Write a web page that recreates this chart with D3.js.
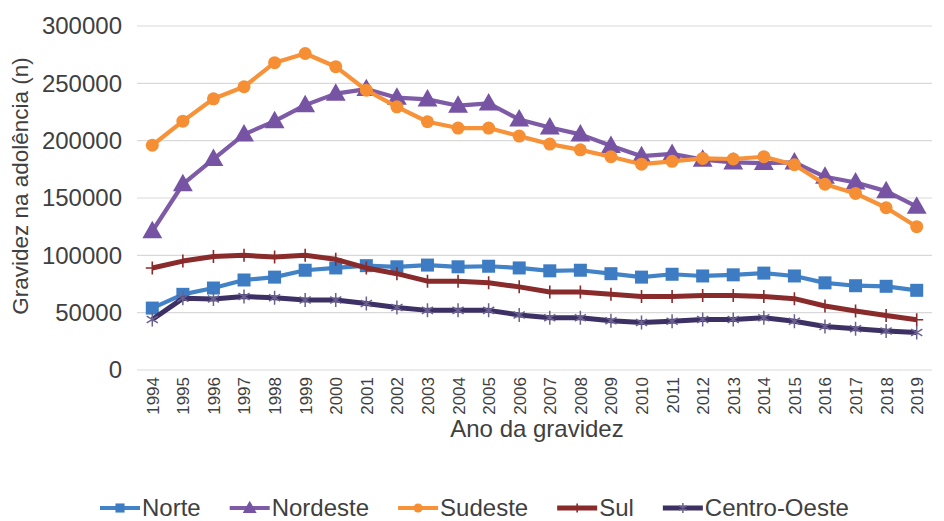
<!DOCTYPE html>
<html>
<head>
<meta charset="utf-8">
<script src="https://cdn.jsdelivr.net/npm/d3@7"></script>
<style>
  html, body { margin: 0; padding: 0; background: #fff; }
  svg { display: block; font-family: "Liberation Sans", Arial, sans-serif; }
</style>
</head>
<body>
<svg id="chart" width="944" height="521"></svg>
<script>
// Adolescent pregnancies by region, 1994–2019
const years = d3.range(1994, 2020).map(String);
const yTicks = [0, 50000, 100000, 150000, 200000, 250000, 300000];

const norte = [54000, 66000, 71500, 78500, 81000, 87000, 89000, 91000, 90000, 91500, 90000, 90500, 89000,
  86500, 87000, 84000, 81000, 83500, 82000, 83000, 84500, 82000, 76000, 73500, 73000, 69500];
const nordeste = [121000, 162000, 184000, 205500, 217000, 231000, 241000, 245000, 237500, 236000, 230500,
  232500, 218500, 211500, 205500, 195500, 186500, 188500, 183500, 181000, 180500, 181000, 168500, 163500,
  156000, 142500];
const sudeste = [196000, 217000, 236500, 247000, 268000, 276000, 264500, 244000, 229500, 216500, 211000,
  211000, 204000, 197000, 192000, 186000, 179500, 182000, 184500, 184000, 186000, 179000, 162000, 154000,
  141500, 125000];
const sul = [89000, 95000, 99000, 100000, 98500, 100000, 96500, 89000, 84000, 77500, 77500, 76000, 72500,
  68000, 68000, 66000, 64200, 64200, 65000, 65000, 64200, 62200, 55800, 51500, 47500, 43800];
const centroOeste = [44000, 62500, 62000, 64000, 63000, 61000, 61000, 58000, 54500, 52000, 52000, 52000,
  48000, 45500, 45500, 43000, 41500, 42500, 44000, 44000, 45500, 42500, 38000, 36000, 34000, 32700];

const seriesNames = ["Norte", "Nordeste", "Sudeste", "Sul", "Centro-Oeste"];
const seriesValues = [norte, nordeste, sudeste, sul, centroOeste];
const seriesColors = ["#4282c6", "#7d5ba6", "#f79239", "#8a2b2b", "#3c3064"];
const markerColors = ["#3d7cc2", "#7653a3", "#f68f34", "#8a2b2b", "#6b6190"];
const markerKinds = ["square", "triangle", "circle", "plus", "star"];

const svg = d3.select("#chart");
const plotLeft = 137, plotRight = 932, plotTop = 26, plotBottom = 370;

const x = d3.scalePoint().domain(years).range([plotLeft, plotRight]).padding(0.5);
const y = d3.scaleLinear().domain([0, 300000]).range([plotBottom, plotTop]);

const textColor = "#404040";

// gridlines
svg.append("g")
  .selectAll("line")
  .data(yTicks)
  .join("line")
  .attr("x1", plotLeft).attr("x2", plotRight)
  .attr("y1", d => y(d)).attr("y2", d => y(d))
  .attr("stroke", "#d9d9d9").attr("stroke-width", 1.2);

// y axis labels
const yAxis = d3.axisLeft(y).tickValues(yTicks).tickSize(0).tickPadding(0).tickFormat(d3.format("d"));
const gy = svg.append("g").attr("transform", `translate(${122},0)`).call(yAxis);
gy.select(".domain").remove();
gy.selectAll("text").attr("fill", textColor).style("font-size", "24px")
  .attr("font-family", "'Liberation Sans', Arial, sans-serif");

// x axis labels (rotated)
const xAxis = d3.axisBottom(x).tickSize(0).tickPadding(0);
const gx = svg.append("g").attr("transform", `translate(0,${plotBottom})`).call(xAxis);
gx.select(".domain").remove();
gx.selectAll("text")
  .attr("fill", textColor)
  .style("font-size", "17px")
  .attr("font-family", "'Liberation Sans', Arial, sans-serif")
  .attr("text-anchor", "end")
  .attr("dy", "0.35em")
  .attr("transform", "translate(0,7) rotate(-90)")
  .attr("x", 0).attr("y", 0);

// axis titles
svg.append("text")
  .attr("x", 537).attr("y", 437)
  .attr("text-anchor", "middle")
  .attr("fill", textColor).style("font-size", "24px")
  .text("Ano da gravidez");

svg.append("text")
  .attr("transform", `translate(28,${186}) rotate(-90)`)
  .attr("text-anchor", "middle")
  .attr("fill", textColor).style("font-size", "22.5px")
  .text("Gravidez na adolência (n)");

// marker drawing
function drawMarker(g, kind, color, size) {
  const s = size;
  if (kind === "square") {
    g.append("rect").attr("x", -s / 2).attr("y", -s / 2).attr("width", s).attr("height", s)
      .attr("fill", color);
  } else if (kind === "triangle") {
    const h = s * 1.05;
    g.append("path").attr("d", `M0,${-h * 0.62}L${s * 0.62},${h * 0.42}L${-s * 0.62},${h * 0.42}Z`)
      .attr("fill", color);
  } else if (kind === "circle") {
    g.append("circle").attr("r", s / 2).attr("fill", color);
  } else if (kind === "plus") {
    g.append("path").attr("d", `M0,${-s / 2}V${s / 2}M${-s / 2},0H${s / 2}`)
      .attr("stroke", color).attr("stroke-width", 1.6).attr("fill", "none");
  } else if (kind === "star") {
    const r = s / 2, d = r * 0.8;
    g.append("path").attr("d", `M0,${-r}V${r}M${-d},${-d * 0.6}L${d},${d * 0.6}M${-d},${d * 0.6}L${d},${-d * 0.6}`)
      .attr("stroke", color).attr("stroke-width", 1.5).attr("fill", "none");
  }
}

const markerSizes = [13, 16, 13, 13, 14];
const lineWidths = [4.2, 4.2, 4.2, 5, 5];

const line = d3.line().x((d, i) => x(years[i])).y(d => y(d));

seriesValues.forEach((vals, si) => {
  const g = svg.append("g");
  g.append("path").datum(vals)
    .attr("d", line)
    .attr("fill", "none")
    .attr("stroke", seriesColors[si])
    .attr("stroke-width", lineWidths[si])
    .attr("stroke-linejoin", "round");
  vals.forEach((v, i) => {
    const mg = g.append("g").attr("transform", `translate(${x(years[i])},${y(v)})`);
    drawMarker(mg, markerKinds[si], markerColors[si], markerSizes[si]);
  });
});

// legend
const legend = svg.append("g").attr("transform", "translate(0,508)");
let lx = 100;
seriesNames.forEach((name, si) => {
  const item = legend.append("g").attr("transform", `translate(${lx},0)`);
  item.append("line").attr("x1", 0).attr("x2", 40).attr("y1", 0).attr("y2", 0)
    .attr("stroke", seriesColors[si]).attr("stroke-width", lineWidths[si]);
  const mg = item.append("g").attr("transform", "translate(20,0)");
  drawMarker(mg, markerKinds[si], markerColors[si], markerSizes[si] * 0.7);
  const t = item.append("text").attr("x", 42).attr("y", 0).attr("dy", "0.35em")
    .attr("fill", textColor).style("font-size", "24px").text(name);
  lx += 42 + t.node().getComputedTextLength() + 29;
});
</script>
</body>
</html>
